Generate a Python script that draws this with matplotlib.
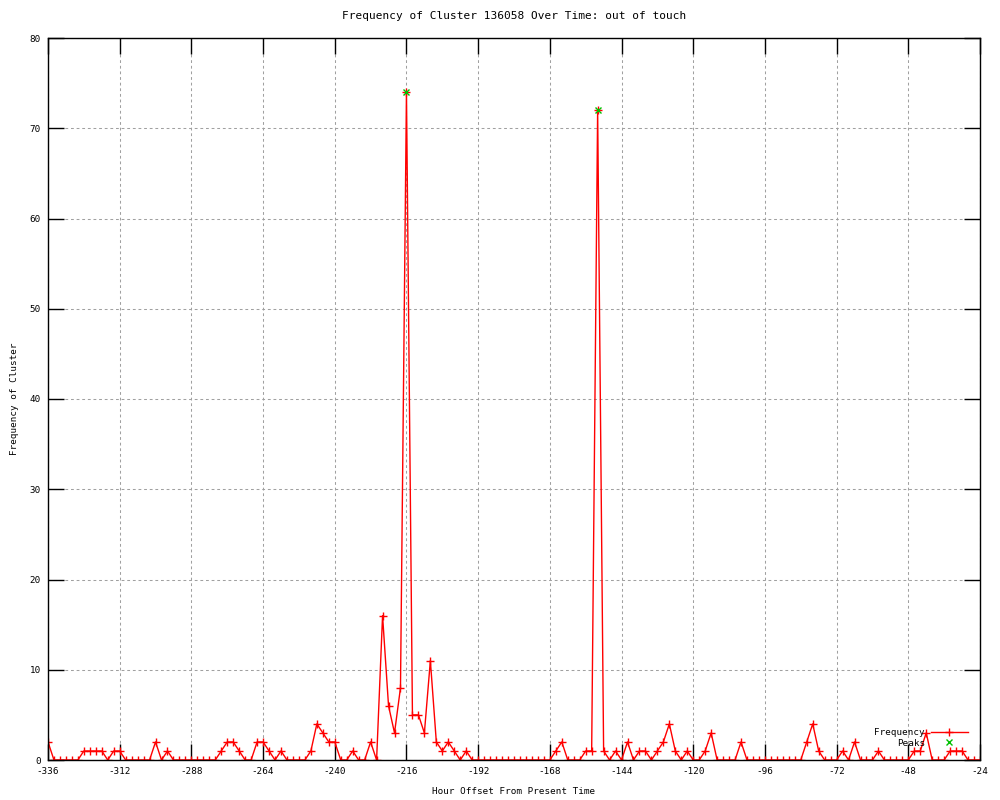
import matplotlib
matplotlib.use("Agg")
import matplotlib.pyplot as plt
import numpy as np

# hours before present, every 2 hours
hours = np.arange(-336, -23, 2)

freq = [
    2, 0, 0, 0, 0, 0, 1, 1, 1, 1,      # -336 .. -318
    0, 1, 1, 0, 0, 0, 0, 0, 2, 0,      # -316 .. -298
    1, 0, 0, 0, 0, 0, 0, 0, 0, 1,      # -296 .. -278
    2, 2, 1, 0, 0, 2, 2, 1, 0, 1,      # -276 .. -258
    0, 0, 0, 0, 1, 4, 3, 2, 2, 0,      # -256 .. -238
    0, 1, 0, 0, 2, 0, 16, 6, 3, 8,     # -236 .. -218
    74, 5, 5, 3, 11, 2, 1, 2, 1, 0,    # -216 .. -198
    1, 0, 0, 0, 0, 0, 0, 0, 0, 0,      # -196 .. -178
    0, 0, 0, 0, 0, 1, 2, 0, 0, 0,      # -176 .. -158
    1, 1, 72, 1, 0, 1, 0, 2, 0, 1,     # -156 .. -138
    1, 0, 1, 2, 4, 1, 0, 1, 0, 0,      # -136 .. -118
    1, 3, 0, 0, 0, 0, 2, 0, 0, 0,      # -116 .. -98
    0, 0, 0, 0, 0, 0, 0, 2, 4, 1,      # -96 .. -78
    0, 0, 0, 1, 0, 2, 0, 0, 0, 1,      # -76 .. -58
    0, 0, 0, 0, 0, 1, 1, 3, 0, 0,      # -56 .. -38
    0, 1, 1, 1, 0, 0, 0,               # -36 .. -24
]

peak_hours = [-216, -152]
peak_vals = [74, 72]

plt.rcParams['font.family'] = ['DejaVu Sans Mono']
plt.rcParams['font.size'] = 6.7
plt.rcParams['axes.unicode_minus'] = False

fig = plt.figure(figsize=(10, 8), dpi=100)
ax = fig.add_axes([0.048, 0.05, 0.932, 0.9025])

ax.plot(hours, freq, color='red', lw=1, marker='+', ms=6, mew=1, label='Frequency')
ax.plot(peak_hours, peak_vals, color='#00c000', ls='none', marker='x', ms=5, mew=1, label='Peaks')

ax.set_xlim(-336, -24)
ax.set_ylim(0, 80)
ax.set_xticks(np.arange(-336, -23, 24))
ax.set_yticks(np.arange(0, 81, 10))
ax.tick_params(direction='in', length=11.5, width=1, top=True, right=True, pad=5)
ax.grid(True, color='#a0a0a0', ls=(0, (2.7, 2.7)), lw=0.75)
for s in ax.spines.values():
    s.set_linewidth(1)

ax.set_title("Frequency of Cluster 136058 Over Time: out of touch", pad=14)
ax.set_xlabel("Hour Offset From Present Time", labelpad=8)
ax.set_ylabel("Frequency of Cluster", labelpad=8)

ax.legend(loc='lower right', bbox_to_anchor=(0.994, 0.008), frameon=False, markerfirst=False,
          handlelength=4.0, handletextpad=0.6, labelspacing=0.2, borderaxespad=0.3)

fig.savefig("out.png", dpi=100)
